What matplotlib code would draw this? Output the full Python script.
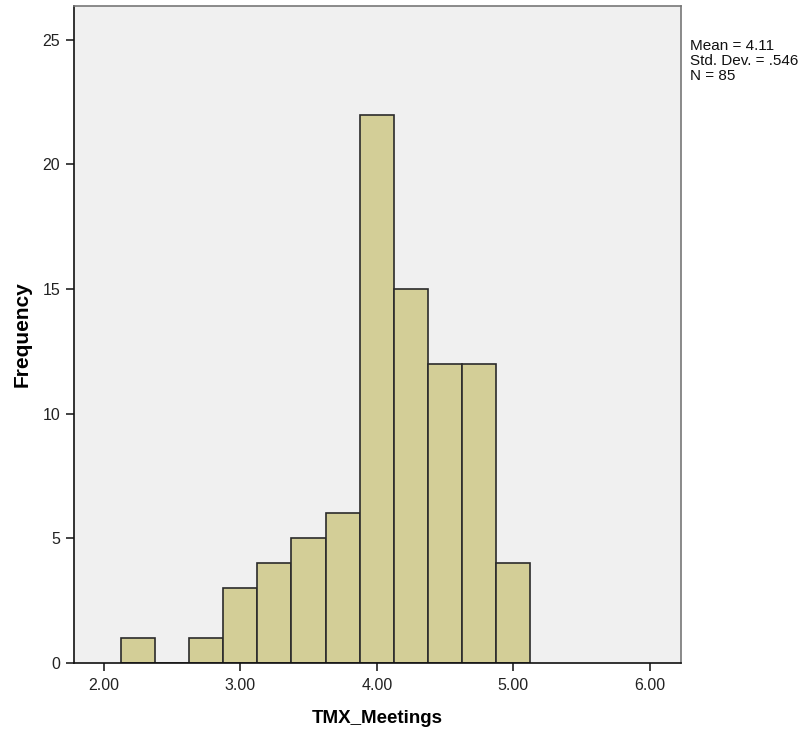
import matplotlib
matplotlib.use('Agg')
import matplotlib.pyplot as plt
import numpy as np

plt.rcParams['font.family'] = ['Liberation Sans', 'DejaVu Sans']

# histogram bins (edges) and counts
binEdges = [2.125, 2.375, 2.625, 2.875, 3.125, 3.375, 3.625, 3.875, 4.125, 4.375, 4.625, 4.875, 5.125]
counts = [1, 0, 1, 3, 4, 5, 6, 22, 15, 12, 12, 4]
xTicks = [2.0, 3.0, 4.0, 5.0, 6.0]
xTickLabels = ['2.00', '3.00', '4.00', '5.00', '6.00']
yTicks = [0, 5, 10, 15, 20, 25]
statsText = 'Mean = 4.11\nStd. Dev. = .546\nN = 85'

fig = plt.figure(figsize=(8.09, 7.36), dpi=100)
ax = fig.add_axes([0.0909, 0.0992, 0.7505, 0.8927])
ax.set_facecolor('#F0F0F0')

lefts = np.array(binEdges[:-1])
widths = np.diff(binEdges)
ax.bar(lefts, counts, width=widths, align='edge', color='#D3CE97',
       edgecolor='#2b2b2b', linewidth=1.2)

ax.set_xlim(1.779, 6.225)
ax.set_ylim(0, 26.36)
ax.set_xticks(xTicks)
ax.set_xticklabels(xTickLabels)
ax.set_yticks(yTicks)
ax.tick_params(axis='both', direction='out', length=6, width=1.2, labelsize=11.5, colors='#222222')
ax.tick_params(axis='x', pad=5)

for side in ['left', 'bottom']:
    ax.spines[side].set_color('#111111')
    ax.spines[side].set_linewidth(1.2)
for side in ['top', 'right']:
    ax.spines[side].set_color('#777777')
    ax.spines[side].set_linewidth(1.2)

ax.set_xlabel('TMX_Meetings', fontsize=13.5, fontweight='bold', labelpad=12)
ax.set_ylabel('Frequency', fontsize=15, fontweight='bold', labelpad=8)

fig.text(0.853, 0.947, statsText, fontsize=11, va='top', ha='left', color='#111111', linespacing=1.1)

fig.savefig('out.png', dpi=100, facecolor='white')
